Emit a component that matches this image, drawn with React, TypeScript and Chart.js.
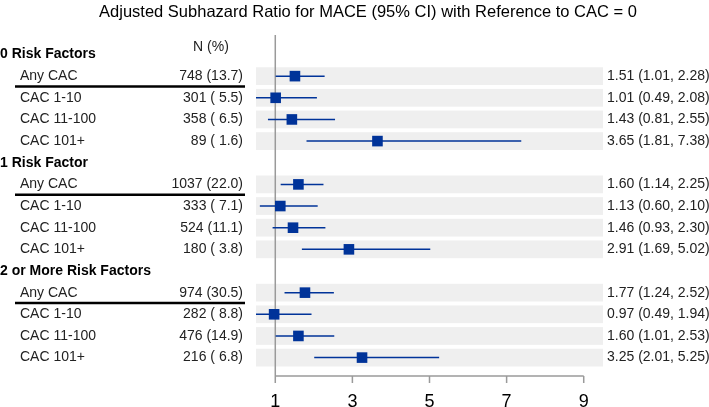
import React, { useEffect, useRef } from "react";
import { Chart, registerables } from "chart.js";

Chart.register(...registerables);

const title = "Adjusted Subhazard Ratio for MACE (95% CI) with Reference to CAC = 0";
const groups = ["0 Risk Factors", "1 Risk Factor", "2 or More Risk Factors"];
const categories = ["Any CAC", "CAC 1-10", "CAC 11-100", "CAC 101+"];
const nLabels = [
  "748 (13.7)", "301 ( 5.5)", "358 ( 6.5)", "89 ( 1.6)",
  "1037 (22.0)", "333 ( 7.1)", "524 (11.1)", "180 ( 3.8)",
  "974 (30.5)", "282 ( 8.8)", "476 (14.9)", "216 ( 6.8)",
];
const hr = [1.51, 1.01, 1.43, 3.65, 1.6, 1.13, 1.46, 2.91, 1.77, 0.97, 1.6, 3.25];
const lo = [1.01, 0.49, 0.81, 1.81, 1.14, 0.6, 0.93, 1.69, 1.24, 0.49, 1.01, 2.01];
const hi = [2.28, 2.08, 2.55, 7.38, 2.25, 2.1, 2.3, 5.02, 2.52, 1.94, 2.53, 5.25];
const xTicks = [1, 3, 5, 7, 9];

const FONT = "'Liberation Sans', Arial, sans-serif";
const BLUE = "#003399";

function slotOf(g: number, i: number) {
  return g * 5 + 1 + i;
}

export default function App() {
  const ref = useRef<HTMLCanvasElement | null>(null);
  useEffect(() => {
    if (!ref.current) return;
    const points = hr.map((v, k) => ({ x: v, y: slotOf(Math.floor(k / 4), k % 4) }));
    const forestPlugin = {
      id: "forest",
      beforeDatasetsDraw(chart: any) {
        const { ctx, chartArea } = chart;
        const xs = chart.scales.x;
        const ys = chart.scales.y;
        ctx.save();
        // bands
        ctx.fillStyle = "#efefef";
        points.forEach((p) => {
          const yt = ys.getPixelForValue(p.y - 0.41);
          const yb = ys.getPixelForValue(p.y + 0.41);
          ctx.fillRect(chartArea.left, Math.min(yt, yb), chartArea.right - chartArea.left, Math.abs(yb - yt));
        });
        // reference line
        const x1 = xs.getPixelForValue(1);
        ctx.strokeStyle = "#9a9a9a";
        ctx.lineWidth = 1.5;
        ctx.beginPath();
        ctx.moveTo(x1, chartArea.top);
        ctx.lineTo(x1, chartArea.bottom);
        ctx.stroke();
        // axis
        ctx.beginPath();
        ctx.moveTo(xs.getPixelForValue(xTicks[0]), chartArea.bottom);
        ctx.lineTo(xs.getPixelForValue(xTicks[xTicks.length - 1]), chartArea.bottom);
        xTicks.forEach((t) => {
          const px = xs.getPixelForValue(t);
          ctx.moveTo(px, chartArea.bottom);
          ctx.lineTo(px, chartArea.bottom + 7);
        });
        ctx.stroke();
        // error bars
        ctx.strokeStyle = BLUE;
        ctx.lineWidth = 1.5;
        points.forEach((p, k) => {
          const py = ys.getPixelForValue(p.y);
          ctx.beginPath();
          ctx.moveTo(Math.max(chartArea.left, xs.getPixelForValue(lo[k])), py);
          ctx.lineTo(xs.getPixelForValue(hi[k]), py);
          ctx.stroke();
        });
        ctx.restore();
      },
      afterDraw(chart: any) {
        const { ctx, chartArea } = chart;
        const xs = chart.scales.x;
        const ys = chart.scales.y;
        ctx.save();
        ctx.fillStyle = "#000";
        ctx.textBaseline = "middle";
        // title
        ctx.font = `16.5px ${FONT}`;
        ctx.textAlign = "center";
        ctx.fillText(title, 368, 12);
        // N (%)
        ctx.font = `14px ${FONT}`;
        ctx.fillStyle = "#222";
        ctx.fillText("N (%)", 211, ys.getPixelForValue(-0.33));
        groups.forEach((g, gi) => {
          ctx.font = `bold 14px ${FONT}`;
          ctx.fillStyle = "#000";
          ctx.textAlign = "left";
          ctx.fillText(g, 0, ys.getPixelForValue(gi * 5));
          categories.forEach((c, ci) => {
            const k = gi * 4 + ci;
            const py = ys.getPixelForValue(slotOf(gi, ci));
            ctx.font = `14px ${FONT}`;
            ctx.fillStyle = "#222";
            ctx.textAlign = "left";
            ctx.fillText(c, 20, py);
            ctx.textAlign = "right";
            ctx.fillText(nLabels[k], 243, py);
            ctx.textAlign = "left";
            ctx.fillText(`${hr[k].toFixed(2)} (${lo[k].toFixed(2)}, ${hi[k].toFixed(2)})`, 607, py);
          });
          // underline below "Any CAC"
          const uy = ys.getPixelForValue(slotOf(gi, 0) + 0.48);
          ctx.strokeStyle = "#000";
          ctx.lineWidth = 2.5;
          ctx.beginPath();
          ctx.moveTo(15, uy);
          ctx.lineTo(245, uy);
          ctx.stroke();
        });
        // tick labels
        ctx.font = `18px ${FONT}`;
        ctx.fillStyle = "#000";
        ctx.textAlign = "center";
        xTicks.forEach((t) => {
          ctx.fillText(String(t), xs.getPixelForValue(t), chartArea.bottom + 26.5);
        });
        ctx.restore();
      },
    };
    const chart = new Chart(ref.current, {
      type: "scatter",
      data: {
        datasets: [
          {
            data: points,
            pointStyle: "rect",
            pointRadius: 7.5,
            pointHoverRadius: 7.5,
            backgroundColor: BLUE,
            borderColor: BLUE,
            borderWidth: 0,
          },
        ],
      },
      options: {
        animation: false,
        responsive: false,
        devicePixelRatio: 1,
        layout: { padding: { left: 256, right: 106, top: 35, bottom: 31 } },
        plugins: { legend: { display: false }, tooltip: { enabled: false }, title: { display: false } },
        scales: {
          x: { type: "linear", min: 0.5, max: 9.5, display: false },
          y: { type: "linear", min: -0.9, max: 14.85, reverse: true, display: false },
        },
      },
      plugins: [forestPlugin],
    });
    return () => chart.destroy();
  }, []);
  return (
    <div style={{ position: "fixed", left: 0, top: 0, width: 709, height: 407, background: "#fff" }}>
      <canvas ref={ref} width={709} height={407} />
    </div>
  );
}
